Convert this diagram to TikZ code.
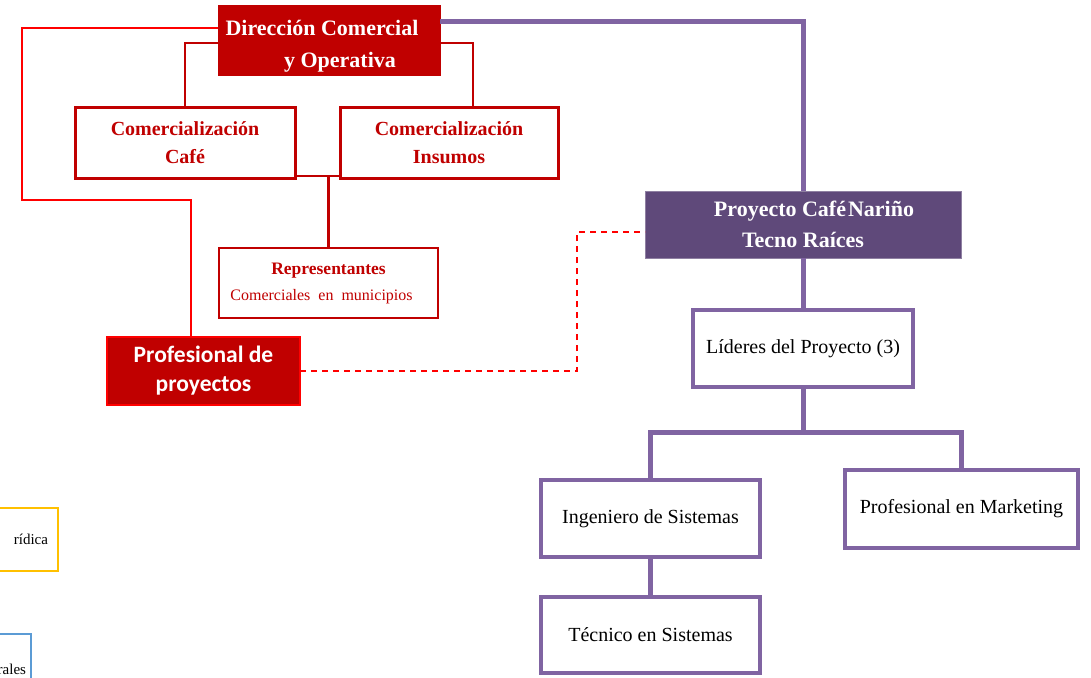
\documentclass[tikz,border=0pt]{standalone}
\usepackage{fontspec}
\setmainfont{Liberation Serif}
\newfontfamily\carlito{Carlito}
\definecolor{dred}{HTML}{C00000}
\definecolor{bred}{HTML}{FF0000}
\definecolor{purp}{HTML}{8064A2}
\definecolor{dpurp}{HTML}{5F497A}
\definecolor{yel}{HTML}{FFC000}
\definecolor{blu}{HTML}{5B9BD5}
\begin{document}
\begin{tikzpicture}[x=1pt,y=-1pt,
  every node/.style={inner sep=2pt, outer sep=0pt},
  redbox/.style={draw=dred, line width=3pt, fill=white, text=dred, font=\fontsize{20}{28}\selectfont\bfseries, align=center},
  redfill/.style={draw=dred, fill=dred, line width=1pt, text=white, font=\fontsize{22}{32}\selectfont\bfseries, align=center},
  profbox/.style={draw=bred, fill=dred, line width=2pt, text=white, font=\carlito\fontsize{23.5}{29}\selectfont\bfseries, align=center},
  purpfill/.style={draw=dpurp!70, fill=dpurp, line width=1pt, text=white, font=\fontsize{22}{31}\selectfont\bfseries, align=center},
  purpbox/.style={draw=purp, line width=4pt, fill=white, text=black, font=\fontsize{20}{24}\selectfont, align=center},
  redline/.style={draw=bred, line width=2pt},
  dredline/.style={draw=dred, line width=2.5pt},
  purpline/.style={draw=purp, line width=5pt},
]
\useasboundingbox (0,0) rectangle (1091,677);
\clip (0,0) rectangle (1091,677);

% red side
\node[redfill, minimum width=222pt, minimum height=69pt] (dir) at (329,40.5)
  {\raisebox{-5pt}[\height][\depth]{\begin{tabular}{@{}c@{}}Dirección Comercial\hspace*{14pt}\\\hspace*{22pt}y Operativa\end{tabular}}};
\node[redbox, minimum width=220pt, minimum height=71pt] (cafe) at (185,142.5)
  {Comercialización\\Café};
\node[redbox, minimum width=218pt, minimum height=71pt] (ins) at (449,142.5)
  {Comercialización\\Insumos};
\node[redbox, line width=2.5pt, minimum width=219pt, minimum height=70pt,
  font=\fontsize{16}{26}\selectfont] (repr) at (328.5,283)
  {{\fontsize{17.5}{26}\selectfont\bfseries Representantes}\\{\mdseries Comerciales\ \ en\ \ municipios}\hspace*{14pt}};
\node[profbox, minimum width=193pt, minimum height=68pt] (prof) at (203.5,371)
  {Profesional de\\proyectos};

% purple side
\node[purpfill, minimum width=316pt, minimum height=67pt] (proy) at (803,224.5)
  {\hspace*{22pt}Proyecto Café\hspace{2pt}Nariño\\Tecno Raíces};
\node[purpbox, minimum width=220pt, minimum height=77pt] (lid) at (803,348.5)
  {Líderes del Proyecto (3)};
\node[purpbox, minimum width=219pt, minimum height=77pt] (ing) at (650.5,518.5)
  {Ingeniero de Sistemas};
\node[purpbox, minimum width=219pt, minimum height=76pt] (tec) at (650.5,635)
  {Técnico en Sistemas};
\node[purpbox, minimum width=233pt, minimum height=78pt] (mkt) at (961.5,509)
  {Profesional en Marketing};

% partial boxes on the left edge
\node[draw=yel, line width=2.5pt, minimum width=140pt, minimum height=63pt,
  text width=120pt, align=right, inner xsep=8pt, font=\fontsize{15}{18}\selectfont,
  anchor=east] (jur) at (58,539.5) {rídica};
\node[draw=blu, line width=1.5pt, minimum width=120pt, minimum height=70pt,
  text width=110pt, align=right, inner xsep=1pt, font=\fontsize{15}{18}\selectfont,
  anchor=east] (gen) at (31,669) {rales};

% coordinates
\coordinate (rbend) at (22,200);
\coordinate (cj) at (328.5,176);
\coordinate (dbend) at (577,300);
\coordinate (pj) at (803,432);

% red connectors
\draw[redline] ([yshift=12.5pt]dir.west) -| (rbend) -| ([xshift=-12.5pt]prof.north);
\draw[dredline] ([yshift=-2.5pt]dir.west) -| (cafe.north);
\draw[dredline] ([yshift=-2.5pt]dir.east) -| ([xshift=24pt]ins.north);
\draw[dredline] ([yshift=-33.5pt]cafe.east) -- ([yshift=-33.5pt]ins.west);
\draw[dredline] (cj) -- (repr.north);
\draw[redline, line width=1.5pt, dash pattern=on 6pt off 5pt] (prof.east) -| (dbend) |- ([yshift=-7.5pt]proy.west);

% purple connectors
\draw[purpline] ([yshift=18.5pt]dir.east) -| (proy.north);
\draw[purpline] (proy.south) -- (lid.north);
\draw[purpline] (lid.south) -- (pj);
\draw[purpline] (ing.north) |- (mkt.north |- pj) -- (mkt.north);
\draw[purpline] (ing.south) -- (tec.north);
\end{tikzpicture}
\end{document}
